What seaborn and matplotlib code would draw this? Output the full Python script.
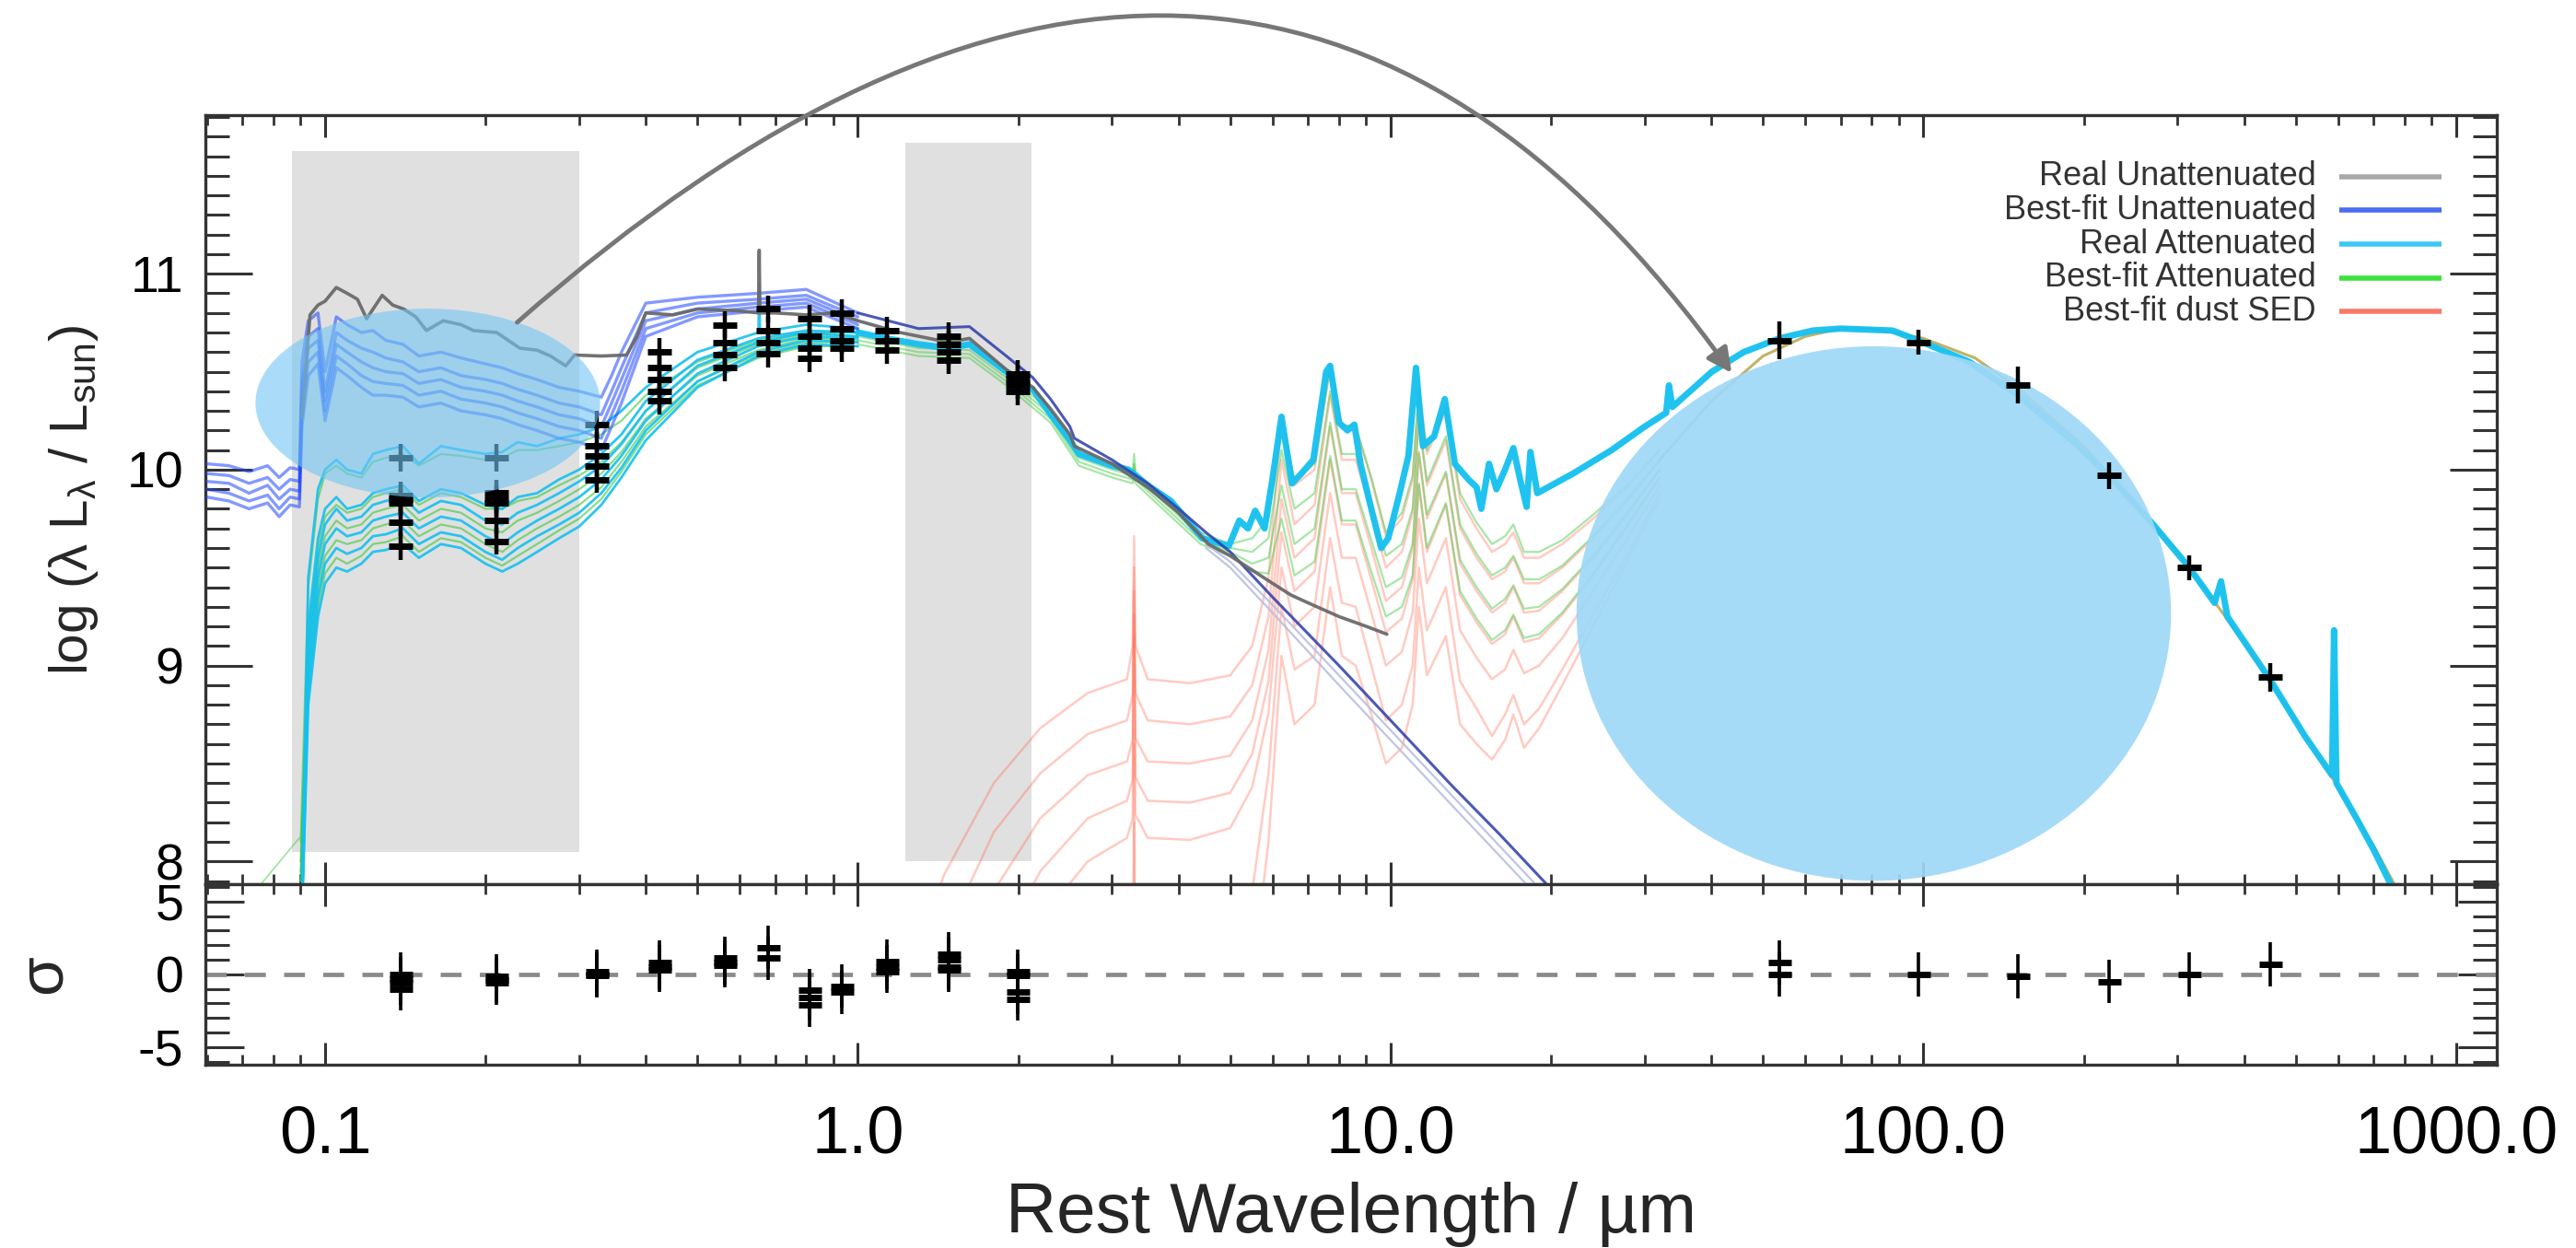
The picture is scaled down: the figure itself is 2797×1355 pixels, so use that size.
import numpy as np
import pandas as pd
import matplotlib
matplotlib.use('Agg')
import matplotlib.pyplot as plt
import seaborn as sns
from matplotlib.patches import Ellipse, Rectangle, FancyArrowPatch
from matplotlib.path import Path
from matplotlib.lines import Line2D
from matplotlib.ticker import FixedLocator, NullFormatter, MultipleLocator, LogLocator, FixedFormatter

# ---------------------------------------------------------------- data
# UV-optical grid shared by the attenuated (cyan / green) lines, micron
uv_wl = [0.090, 0.093, 0.097, 0.100, 0.105, 0.110, 0.117, 0.123, 0.130, 0.140, 0.150, 0.165, 0.180,
         0.200, 0.215, 0.230, 0.250, 0.275, 0.300, 0.330, 0.360, 0.400, 0.500, 0.650, 0.800, 1.000]
cyan_uv = [
    [7.50, 9.45, 9.90, 10.00, 10.05, 10.00, 9.98, 10.08, 10.10, 10.12, 10.03, 10.12, 10.10, 10.08, 10.09, 10.14, 10.12, 10.16, 10.18, 10.22, 10.30, 10.42, 10.60, 10.70, 10.74, 10.72],
    [7.50, 9.20, 9.65, 9.80, 9.86, 9.80, 9.82, 9.88, 9.90, 9.92, 9.84, 9.90, 9.88, 9.82, 9.80, 9.86, 9.88, 9.95, 10.00, 10.08, 10.18, 10.35, 10.56, 10.67, 10.71, 10.70],
    [7.50, 9.10, 9.55, 9.72, 9.80, 9.74, 9.76, 9.82, 9.84, 9.86, 9.78, 9.84, 9.82, 9.74, 9.72, 9.78, 9.82, 9.88, 9.94, 10.02, 10.13, 10.30, 10.53, 10.65, 10.70, 10.68],
    [7.50, 9.00, 9.45, 9.62, 9.70, 9.66, 9.68, 9.74, 9.76, 9.78, 9.70, 9.76, 9.74, 9.66, 9.62, 9.68, 9.74, 9.80, 9.86, 9.95, 10.07, 10.25, 10.49, 10.63, 10.68, 10.67],
    [7.50, 8.90, 9.35, 9.52, 9.60, 9.57, 9.60, 9.66, 9.67, 9.70, 9.62, 9.68, 9.66, 9.58, 9.54, 9.60, 9.66, 9.72, 9.78, 9.88, 10.01, 10.20, 10.45, 10.60, 10.66, 10.65],
    [7.50, 8.80, 9.25, 9.42, 9.50, 9.48, 9.52, 9.58, 9.59, 9.62, 9.55, 9.62, 9.60, 9.52, 9.48, 9.52, 9.58, 9.65, 9.71, 9.82, 9.96, 10.15, 10.42, 10.58, 10.64, 10.63],
]
green_uv = [
    [8.10, 9.40, 9.85, 9.98, 10.02, 9.98, 9.96, 10.04, 10.06, 10.08, 10.02, 10.08, 10.07, 10.05, 10.06, 10.10, 10.10, 10.12, 10.14, 10.18, 10.25, 10.38, 10.55, 10.66, 10.70, 10.70],
    [8.00, 9.15, 9.60, 9.76, 9.82, 9.78, 9.80, 9.86, 9.88, 9.90, 9.82, 9.88, 9.86, 9.80, 9.80, 9.84, 9.86, 9.92, 9.97, 10.04, 10.14, 10.30, 10.52, 10.64, 10.69, 10.68],
    [7.95, 9.05, 9.50, 9.66, 9.74, 9.70, 9.72, 9.78, 9.80, 9.82, 9.74, 9.80, 9.78, 9.70, 9.68, 9.74, 9.78, 9.84, 9.90, 9.98, 10.09, 10.26, 10.48, 10.61, 10.67, 10.66],
    [7.90, 8.95, 9.40, 9.56, 9.64, 9.62, 9.64, 9.70, 9.72, 9.74, 9.66, 9.72, 9.70, 9.62, 9.58, 9.64, 9.70, 9.76, 9.82, 9.91, 10.04, 10.22, 10.45, 10.59, 10.65, 10.65],
    [7.90, 8.85, 9.30, 9.47, 9.55, 9.52, 9.56, 9.62, 9.63, 9.66, 9.58, 9.65, 9.63, 9.55, 9.51, 9.56, 9.62, 9.69, 9.75, 9.85, 9.99, 10.18, 10.43, 10.57, 10.63, 10.63],
]
green_lead_wl = [0.074, 0.0895]
green_lead_v = [7.85, 8.12]

# best-fit unattenuated (blue) lines
blue_wl = [0.060, 0.066, 0.072, 0.078, 0.082, 0.086, 0.0895, 0.0905, 0.093, 0.097, 0.100, 0.105, 0.110, 0.117,
           0.123, 0.130, 0.140, 0.150, 0.165, 0.180, 0.200, 0.215, 0.230, 0.250, 0.275, 0.300, 0.330, 0.345,
           0.360, 0.400, 0.500, 0.650, 0.800, 1.000]
blue_uv = [
    [10.03, 10.02, 9.99, 10.02, 9.96, 10.01, 10.00, 10.55, 10.76, 10.80, 10.50, 10.78, 10.74, 10.70, 10.71, 10.66, 10.64, 10.58, 10.60, 10.57, 10.54, 10.52, 10.49, 10.46, 10.42, 10.40, 10.37, 10.48, 10.60, 10.85, 10.88, 10.90, 10.92, 10.80],
    [9.98, 9.97, 9.93, 9.96, 9.90, 9.95, 9.94, 10.45, 10.68, 10.72, 10.40, 10.70, 10.66, 10.62, 10.60, 10.57, 10.55, 10.50, 10.52, 10.48, 10.46, 10.44, 10.41, 10.38, 10.34, 10.32, 10.28, 10.40, 10.52, 10.80, 10.85, 10.87, 10.89, 10.78],
    [9.94, 9.93, 9.88, 9.92, 9.85, 9.90, 9.89, 10.38, 10.62, 10.66, 10.35, 10.64, 10.60, 10.55, 10.52, 10.50, 10.49, 10.44, 10.46, 10.42, 10.40, 10.38, 10.35, 10.32, 10.28, 10.26, 10.22, 10.34, 10.46, 10.76, 10.82, 10.85, 10.87, 10.76],
    [9.90, 9.88, 9.84, 9.87, 9.80, 9.86, 9.85, 10.30, 10.55, 10.60, 10.30, 10.58, 10.54, 10.48, 10.45, 10.44, 10.43, 10.38, 10.40, 10.36, 10.34, 10.32, 10.29, 10.26, 10.22, 10.20, 10.16, 10.28, 10.40, 10.72, 10.80, 10.83, 10.85, 10.74],
    [9.86, 9.84, 9.80, 9.83, 9.76, 9.82, 9.81, 10.22, 10.48, 10.54, 10.25, 10.52, 10.48, 10.42, 10.38, 10.38, 10.37, 10.32, 10.34, 10.30, 10.28, 10.26, 10.23, 10.20, 10.16, 10.14, 10.10, 10.22, 10.34, 10.68, 10.78, 10.81, 10.83, 10.72],
]
blue_tail_wl = [1.0, 1.3, 1.62, 1.9, 2.13, 2.3, 2.5, 2.55, 3.0, 3.5, 4.0, 4.5, 5.0, 6.0, 8.0, 10.0, 13.0, 16.0, 20.0, 22.0]
blue_tail_v = [10.80, 10.72, 10.73, 10.58, 10.47, 10.36, 10.22, 10.16, 10.05, 9.93, 9.80, 9.68, 9.58, 9.35, 9.00, 8.72, 8.39, 8.14, 7.86, 7.74]
pale_tail_wl = [4.5, 5.0, 6.0, 8.0, 10.0, 13.0, 16.0, 20.0, 22.0]
pale_tails = [
    [9.62, 9.53, 9.31, 8.95, 8.67, 8.34, 8.08, 7.80, 7.68],
    [9.60, 9.50, 9.27, 8.90, 8.62, 8.29, 8.03, 7.75, 7.63],
]

# real unattenuated (grey)
gray_wl = [0.0906, 0.0937, 0.097, 0.100, 0.105, 0.110, 0.115, 0.1197, 0.128, 0.134, 0.1404, 0.148, 0.155, 0.1666,
           0.180, 0.190, 0.210, 0.232, 0.250, 0.265, 0.283, 0.294, 0.330, 0.368, 0.385, 0.400, 0.450, 0.500,
           0.600, 0.651, 0.653, 0.655, 0.700, 0.800, 0.900, 1.000, 1.200, 1.480, 1.620, 1.900, 2.130, 2.300,
           2.500, 2.550, 3.000, 3.500, 4.000, 4.550, 5.000, 6.000, 6.500, 7.000, 8.000, 9.000, 9.840]
gray_v = [10.27, 10.79, 10.84, 10.86, 10.93, 10.90, 10.87, 10.77, 10.89, 10.84, 10.82, 10.78, 10.71, 10.76,
          10.74, 10.71, 10.70, 10.62, 10.61, 10.58, 10.53, 10.585, 10.58, 10.585, 10.68, 10.80, 10.79, 10.82,
          10.81, 10.80, 11.12, 10.80, 10.80, 10.79, 10.80, 10.76, 10.70, 10.65, 10.67, 10.51, 10.42, 10.31,
          10.18, 10.12, 10.03, 9.91, 9.78, 9.62, 9.56, 9.42, 9.36, 9.32, 9.25, 9.20, 9.16]

# real attenuated (cyan) beyond 1 micron
cyan_tail_wl = [1.00, 1.13, 1.30, 1.48, 1.62, 1.90, 2.13, 2.29, 2.50, 2.60, 3.00, 3.22, 3.50, 3.87, 4.43, 4.97,
                5.20, 5.40, 5.57, 5.80, 6.00, 6.24, 6.53, 6.80, 7.16, 7.57, 7.70, 8.00, 8.30, 8.55, 8.78, 9.20,
                9.60, 9.90, 10.40, 10.80, 11.16, 11.30, 11.50, 12.07, 12.64, 13.20, 14.00, 14.50, 14.80, 15.30,
                15.80, 16.40, 17.00, 17.50, 18.00, 18.30, 18.85, 22.0, 26.0, 30.0, 32.9, 33.3, 33.8, 40.1, 46.0,
                53.7, 62.0, 70.0, 87.5, 97.8, 122.0, 150.6, 190.0, 223.0, 270.0, 315.6, 352.0, 362.0, 372.0,
                447.0, 520.0, 585.0, 590.0, 596.0, 650.0, 700.0, 780.0]
cyan_tail_v = [10.70, 10.67, 10.64, 10.62, 10.64, 10.50, 10.41, 10.29, 10.15, 10.08, 10.02, 10.00, 9.92, 9.84,
               9.65, 9.61, 9.74, 9.70, 9.79, 9.70, 9.95, 10.27, 9.93, 9.98, 10.05, 10.50, 10.53, 10.24, 10.20,
               10.23, 10.03, 9.80, 9.60, 9.65, 9.88, 10.07, 10.52, 10.35, 10.12, 10.17, 10.36, 10.03, 9.95, 9.91,
               9.80, 10.03, 9.90, 10.00, 10.11, 9.95, 9.81, 10.09, 9.88, 9.98, 10.10, 10.22, 10.29, 10.43, 10.32,
               10.50, 10.60, 10.67, 10.71, 10.72, 10.71, 10.66, 10.55, 10.38, 10.15, 9.97, 9.72, 9.50, 9.32,
               9.43, 9.25, 8.93, 8.64, 8.44, 9.18, 8.40, 8.22, 8.06, 7.80]
cyan_line_wl = [0.651, 0.653, 0.655]
cyan_line_v = [10.70, 10.95, 10.70]

# best-fit attenuated (green) beyond 1 micron
green_tail_wl = [1.0, 1.3, 1.62, 1.9, 2.3, 2.6, 3.0, 3.28, 3.30, 3.32, 3.6, 4.4, 5.0, 5.5, 5.9, 6.24, 6.6, 7.2,
                 7.7, 8.1, 8.6, 9.2, 9.8, 10.5, 11.0, 11.3, 11.7, 12.7, 13.5, 14.5, 15.5, 16.4, 17.0, 17.8,
                 19.0, 21.0, 24.0, 28.0, 32.0]
green_tail = [
    [10.70, 10.64, 10.63, 10.49, 10.30, 10.08, 10.02, 9.99, 10.08, 9.99, 9.90, 9.68, 9.62, 9.65, 9.75, 10.27, 9.95, 10.03, 10.52, 10.23, 10.22, 9.96, 9.68, 9.78, 9.97, 10.42, 10.10, 10.32, 9.88, 9.73, 9.62, 9.66, 9.72, 9.58, 9.58, 9.64, 9.77, 9.93, 10.10],
    [10.68, 10.62, 10.61, 10.47, 10.28, 10.06, 10.00, 9.97, 10.03, 9.97, 9.88, 9.66, 9.60, 9.58, 9.65, 10.10, 9.80, 9.88, 10.40, 10.08, 10.08, 9.82, 9.56, 9.62, 9.80, 10.26, 9.94, 10.17, 9.72, 9.57, 9.46, 9.50, 9.56, 9.44, 9.44, 9.51, 9.66, 9.86, 10.05],
    [10.66, 10.60, 10.59, 10.45, 10.26, 10.04, 9.98, 9.95, 10.00, 9.95, 9.86, 9.64, 9.58, 9.52, 9.55, 9.92, 9.62, 9.70, 10.24, 9.90, 9.90, 9.64, 9.40, 9.45, 9.62, 10.09, 9.77, 9.99, 9.54, 9.40, 9.29, 9.34, 9.41, 9.29, 9.30, 9.39, 9.56, 9.79, 10.00],
    [10.64, 10.58, 10.57, 10.43, 10.24, 10.02, 9.96, 9.93, 9.97, 9.93, 9.84, 9.62, 9.56, 9.48, 9.47, 9.75, 9.46, 9.53, 10.07, 9.74, 9.74, 9.48, 9.25, 9.30, 9.46, 9.93, 9.60, 9.83, 9.38, 9.24, 9.13, 9.18, 9.26, 9.14, 9.16, 9.27, 9.47, 9.73, 9.96],
]

# best-fit dust SED (red)
dust_wl = [1.3, 1.45, 1.8, 2.2, 2.7, 3.2, 3.28, 3.30, 3.32, 3.5, 4.2, 5.0, 5.5, 5.9, 6.24, 6.6, 7.2, 7.7, 8.1,
           8.6, 9.2, 9.8, 10.5, 11.0, 11.3, 11.7, 12.7, 13.5, 14.5, 15.5, 16.4, 17.0, 17.8, 19.0, 21.0, 24.0,
           28.0, 32.0]
dust = [
    [7.50, 7.93, 8.40, 8.68, 8.86, 8.93, 9.10, 9.66, 9.10, 8.93, 8.91, 8.95, 9.10, 9.45, 10.25, 9.92, 10.00, 10.53, 10.22, 10.22, 9.95, 9.66, 9.75, 9.95, 10.40, 10.08, 10.30, 9.85, 9.70, 9.58, 9.62, 9.68, 9.55, 9.55, 9.62, 9.75, 9.92, 10.10],
    [7.00, 7.60, 8.15, 8.45, 8.65, 8.72, 8.85, 9.50, 8.86, 8.72, 8.70, 8.74, 8.90, 9.25, 10.05, 9.72, 9.82, 10.38, 10.05, 10.05, 9.78, 9.50, 9.58, 9.78, 10.25, 9.92, 10.15, 9.70, 9.55, 9.44, 9.48, 9.55, 9.42, 9.42, 9.50, 9.65, 9.85, 10.05],
    [6.50, 7.20, 7.85, 8.22, 8.44, 8.51, 8.62, 9.38, 8.63, 8.51, 8.50, 8.54, 8.72, 9.08, 9.85, 9.55, 9.65, 10.22, 9.88, 9.88, 9.60, 9.33, 9.40, 9.60, 10.08, 9.75, 9.98, 9.52, 9.38, 9.27, 9.32, 9.40, 9.27, 9.28, 9.38, 9.55, 9.78, 10.00],
    [6.00, 6.80, 7.50, 7.95, 8.22, 8.31, 8.42, 9.26, 8.43, 8.31, 8.30, 8.35, 8.55, 8.92, 9.68, 9.38, 9.48, 10.05, 9.72, 9.72, 9.44, 9.17, 9.24, 9.44, 9.92, 9.58, 9.82, 9.36, 9.22, 9.11, 9.16, 9.25, 9.12, 9.14, 9.26, 9.46, 9.72, 9.96],
    [5.50, 6.40, 7.15, 7.70, 8.00, 8.12, 8.22, 9.15, 8.24, 8.12, 8.11, 8.17, 8.38, 8.76, 9.50, 9.20, 9.30, 9.88, 9.55, 9.55, 9.27, 9.00, 9.07, 9.27, 9.75, 9.42, 9.65, 9.18, 9.04, 8.93, 8.98, 9.08, 8.96, 9.00, 9.14, 9.38, 9.66, 9.92],
    [5.00, 5.00, 5.00, 5.50, 6.00, 6.50, 6.60, 8.60, 6.70, 6.80, 7.10, 7.50, 7.85, 8.45, 9.30, 8.98, 9.05, 9.65, 9.32, 9.30, 9.00, 8.72, 8.80, 9.00, 9.50, 9.18, 9.40, 8.92, 8.78, 8.64, 8.75, 8.85, 8.70, 8.78, 8.98, 9.26, 9.58, 9.88],
    [5.00, 5.00, 5.00, 5.00, 5.50, 6.00, 6.10, 8.20, 6.20, 6.30, 6.60, 7.00, 7.40, 8.10, 9.05, 8.70, 8.80, 9.40, 9.05, 9.00, 8.75, 8.50, 8.58, 8.80, 9.30, 8.95, 9.15, 8.70, 8.60, 8.52, 8.62, 8.75, 8.58, 8.68, 8.90, 9.20, 9.55, 9.85],
]
# far-IR part of the best fit
fir_wl = [32, 40, 50, 60, 70, 80, 100, 125, 150, 200, 250, 300, 400, 500, 600, 700, 760, 800]
fir_v = [10.05, 10.35, 10.58, 10.68, 10.72, 10.72, 10.67, 10.57, 10.42, 10.12, 9.82, 9.58, 9.12, 8.72, 8.38, 8.08, 7.90, 7.78]

# photometry
band_wl = [0.1388, 0.2101, 0.323, 0.425, 0.5617, 0.678, 0.812, 0.934, 1.135, 1.479, 1.995,
           53.7, 97.8, 150.6, 222.8, 315.6, 447.0]
band_logL = [[10.06, 9.87, 9.85, 9.83, 9.73, 9.61], [10.06, 9.88, 9.85, 9.83, 9.74, 9.635],
             [10.23, 10.12, 10.07, 10.02, 9.95], [10.60, 10.52, 10.46, 10.40, 10.35],
             [10.74, 10.65, 10.585, 10.52], [10.82, 10.71, 10.65, 10.59], [10.77, 10.68, 10.62, 10.57],
             [10.80, 10.72, 10.66, 10.62], [10.71, 10.66, 10.61], [10.68, 10.64, 10.60, 10.56],
             [10.49, 10.46, 10.43, 10.40], [10.66], [10.65], [10.43], [9.97], [9.50], [8.94]]
band_err = [0.07, 0.07, 0.07, 0.07, 0.07, 0.07, 0.07, 0.07, 0.07, 0.07, 0.07,
            0.095, 0.065, 0.094, 0.068, 0.063, 0.073]
band_sigma = [[0.0, -0.3, -0.6, -1.0], [-0.15, -0.4, -0.6], [0.2, 0.0, -0.1], [0.8, 0.5, 0.3],
              [1.1, 0.8, 0.6], [1.85, 1.1], [-1.1, -1.6, -2.1], [-0.8, -1.2], [0.9, 0.5, 0.2],
              [1.4, 1.0, 0.5, 0.3], [0.2, -0.1, -1.2, -1.7], [0.8, 0.0], [0.0], [-0.15], [-0.5], [0.0], [0.7]]
sigma_err = 1.5

# shaded wavelength windows
shade_wl = [(0.0867, 0.300), (1.226, 2.117)]
shade_logL = [(8.05, 11.624), (8.00, 11.667)]

xtick_vals = [0.1, 1.0, 10.0, 100.0, 1000.0]
xtick_labels = ['0.1', '1.0', '10.0', '100.0', '1000.0']
ytick_vals = [8, 9, 10, 11]
ytick_labels = ['8', '9', '10', '11']
rtick_vals = [-5, 0, 5]
rtick_labels = ['-5', '0', '5']

legend_labels = ['Real Unattenuated', 'Best-fit Unattenuated', 'Real Attenuated',
                 'Best-fit Attenuated', 'Best-fit dust SED']
legend_colors = ['#a9a9a9', '#4a6cf0', '#3cc8f5', '#3de23d', '#f87a66']

# ---------------------------------------------------------------- style
sns.set_theme(style='white')
plt.rcParams['font.family'] = ['Liberation Sans', 'DejaVu Sans']
plt.rcParams['mathtext.fontset'] = 'custom'
plt.rcParams['mathtext.rm'] = 'Liberation Sans'
plt.rcParams['mathtext.it'] = 'Liberation Sans:italic'
plt.rcParams['axes.unicode_minus'] = False

fig = plt.figure(figsize=(27.97, 13.55), dpi=100)
ax = fig.add_axes([0.0797, 0.2917, 0.8897, 0.6161])
ax2 = fig.add_axes([0.0797, 0.1469, 0.8897, 0.1448])
for a in (ax, ax2):
    a.set_xscale('log')
    a.set_xlim(0.0596, 1194)
ax.set_ylim(7.885, 11.81)
ax2.set_ylim(-6.2, 6.2)


def long_df(wl, rows):
    recs = [(i, w, v) for i, r in enumerate(rows) for w, v in zip(wl, r)]
    return pd.DataFrame(recs, columns=['line', 'wl', 'logL'])


def draw(df, **kw):
    sns.lineplot(data=df, x='wl', y='logL', units='line', estimator=None, sort=False,
                 legend=False, ax=ax, **kw)


# shaded windows
for (x0, x1), (y0, y1) in zip(shade_wl, shade_logL):
    ax.add_patch(Rectangle((x0, y0), x1 - x0, y1 - y0, facecolor='#e0e0e0', edgecolor='none', zorder=0.5))

RED, GREEN, CYAN, BLUE = '#ff6a50', '#3cc83c', '#14c0f0', '#1e46ff'
draw(long_df(dust_wl, dust), color=RED, alpha=0.35, lw=1.8, zorder=2)
draw(long_df(fir_wl, [fir_v]), color='#b0a040', alpha=0.8, lw=2.2, zorder=2.2)
draw(long_df(green_tail_wl, green_tail), color=GREEN, alpha=0.45, lw=1.6, zorder=3)
draw(long_df(uv_wl, green_uv), color=GREEN, alpha=0.6, lw=1.6, zorder=3)
draw(long_df(green_lead_wl, [green_lead_v]), color=GREEN, alpha=0.5, lw=1.2, zorder=3)
draw(long_df(uv_wl, cyan_uv), color=CYAN, alpha=0.9, lw=2.0, zorder=4)
draw(long_df(cyan_tail_wl, [cyan_tail_v]), color=CYAN, alpha=0.95, lw=5.0, zorder=4)
draw(long_df(cyan_line_wl, [cyan_line_v]), color=CYAN, alpha=0.9, lw=2.0, zorder=4)
draw(long_df(blue_wl, blue_uv), color=BLUE, alpha=0.55, lw=2.4, zorder=5)
draw(long_df(pale_tail_wl, pale_tails), color='#b8bfe0', alpha=0.9, lw=1.6, zorder=5)
draw(long_df(blue_tail_wl, [blue_tail_v]), color='#2c3ca8', alpha=0.85, lw=2.2, zorder=5.2)
draw(long_df(gray_wl, [gray_v]), color='#6a6a6a', alpha=0.95, lw=2.6, zorder=6)

# big opaque ellipse over the far-IR peak
ax.add_patch(Ellipse((0.728, 0.3517), 0.2594, 0.6953, transform=ax.transAxes,
                     facecolor='#9fd8f7', edgecolor='none', alpha=0.92, zorder=7))

# photometry with error bars
px = [w for w, vals in zip(band_wl, band_logL) for _ in vals]
py = [v for vals in band_logL for v in vals]
pe = [e for e, vals in zip(band_err, band_logL) for _ in vals]
ax.errorbar(px, py, yerr=pe, fmt='_', color='black', ms=19, mew=5, elinewidth=3.2, capsize=0, zorder=8)

# translucent ellipse over the UV
ax.add_patch(Ellipse((0.0971, 0.6254), 0.1504, 0.2457, transform=ax.transAxes,
                     facecolor='#72c6f5', edgecolor='none', alpha=0.6, zorder=9))

# residual panel
rx = [w for w, vals in zip(band_wl, band_sigma) for _ in vals]
ry = [v for vals in band_sigma for v in vals]
ax2.axhline(0, color='#8a8a8a', lw=3.4, ls=(0, (4.8, 4.2)), zorder=1)
ax2.errorbar(rx, ry, yerr=sigma_err, fmt='_', color='black', ms=18, mew=5, elinewidth=2.6, capsize=0, zorder=3)

# ---------------------------------------------------------------- axes cosmetics
for a in (ax, ax2):
    a.xaxis.set_major_locator(FixedLocator(xtick_vals))
    a.xaxis.set_minor_locator(LogLocator(base=10, subs=np.arange(2, 10), numticks=30))
    a.xaxis.set_minor_formatter(NullFormatter())
    a.tick_params(axis='both', which='both', direction='in', top=True, bottom=True, left=True, right=True,
                  colors='#333333', labelcolor='black')
    a.tick_params(axis='x', which='major', length=17, width=2.2)
    a.tick_params(axis='x', which='minor', length=8, width=2.0)
    for s in a.spines.values():
        s.set_color('#333333')
        s.set_linewidth(2.4)
    a.set_xlabel('')
    a.set_ylabel('')
ax.xaxis.set_major_formatter(NullFormatter())
ax2.xaxis.set_major_formatter(FixedFormatter(xtick_labels))
ax2.tick_params(axis='x', which='major', labelsize=52, pad=31)

ax.yaxis.set_major_locator(FixedLocator(ytick_vals))
ax.yaxis.set_major_formatter(FixedFormatter(ytick_labels))
ax.yaxis.set_minor_locator(MultipleLocator(0.1))
ax.tick_params(axis='y', which='major', length=37, width=2.2, labelsize=40, pad=17)
ax.tick_params(axis='y', which='minor', length=19, width=2.2)

ax2.yaxis.set_major_locator(FixedLocator(rtick_vals))
ax2.yaxis.set_major_formatter(FixedFormatter(rtick_labels))
ax2.yaxis.set_minor_locator(MultipleLocator(1))
ax2.tick_params(axis='y', which='major', length=30, width=2.2, labelsize=40, pad=17)
ax2.tick_params(axis='y', which='minor', length=19, width=2.2)

ax.set_ylabel('log (λ L$_\\mathregular{λ}$ / L$_\\mathregular{sun}$)', fontsize=42)
ax.yaxis.set_label_coords(-0.0458, 0.5)
ax2.set_ylabel('σ', fontsize=50)
ax2.yaxis.set_label_coords(-0.0575, 0.5)
ax2.set_xlabel('Rest Wavelength / µm', fontsize=55, labelpad=12)

# legend (text on the left, sample line on the right)
legend_y = [0.9199, 0.8761, 0.8321, 0.7882, 0.7442]
for lab, col, yy in zip(legend_labels, legend_colors, legend_y):
    ax.text(0.9211, yy, lab, transform=ax.transAxes, ha='right', va='center', fontsize=26,
            color='#333333', zorder=12)
    ax.add_line(Line2D([0.9312, 0.9756], [yy, yy], transform=ax.transAxes, color=col, lw=4,
                       solid_capstyle='butt', zorder=12))

# curved grey arrow from the UV ellipse to the far-IR ellipse
arc = Path([(0.20075, 0.74170), (0.48151, 1.25144), (0.67222, 0.70118)],
           [Path.MOVETO, Path.CURVE3, Path.CURVE3])
arrow = FancyArrowPatch(path=arc, arrowstyle='-|>,head_length=0.8,head_width=0.4', mutation_scale=20,
                        color='#777777', lw=3.5, transform=fig.transFigure, shrinkA=0, shrinkB=0, zorder=20)
fig.patches.append(arrow)

fig.savefig('out.png', dpi=100)
